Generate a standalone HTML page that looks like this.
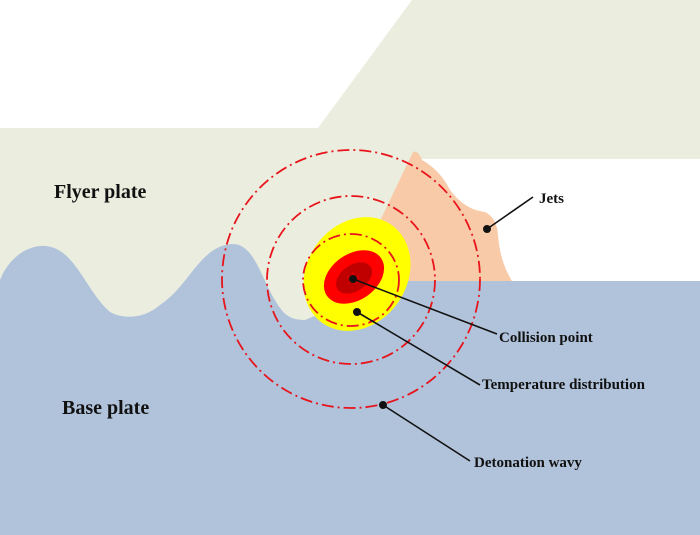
<!DOCTYPE html>
<html><head><meta charset="utf-8"><style>
html,body{margin:0;padding:0;background:#fff;}
svg{display:block;}
text{font-family:"Liberation Serif",serif;font-weight:bold;fill:#111;}
</style></head><body>
<svg width="700" height="535" viewBox="0 0 700 535" xmlns="http://www.w3.org/2000/svg">
<rect width="700" height="535" fill="#fff"/>
<!-- flyer plate -->
<polygon points="0,128 318,128 412,0 700,0 700,159 420,159 400,535 0,535" fill="#ebeedf"/>
<!-- jets -->
<path d="M378,225 L413,152 Q418,150 422,160 Q440,170 450,190 Q465,210 485,212 Q497,218 498,235 Q500,262 512,281 L395,281 Z" fill="#f8caa7"/>
<!-- base plate -->
<path d="M0,280 C10,255 30,245 45,246 C75,248 85,290 110,312 C125,320 145,318 160,305 C190,285 200,246 232,244 C255,243 262,282 278,305 C285,316 292,320 305,320 L400,281 L700,281 L700,535 L0,535 Z" fill="#b0c3da"/>
<!-- yellow ellipse -->
<ellipse cx="357" cy="274" rx="50" ry="60" transform="rotate(35 357 274)" fill="#ffff00"/>
<ellipse cx="354" cy="277" rx="23" ry="33" transform="rotate(55 354 277)" fill="#ff0000"/>
<ellipse cx="354" cy="278" rx="13" ry="20" transform="rotate(55 354 278)" fill="#c00000"/>
<polygon points="353,271 355,276 360,276 356,279 358,284 353,281 348,284 350,279 346,276 351,276" fill="#e00000"/>
<!-- circles -->
<g fill="none" stroke="#e8141b" stroke-width="1.8" stroke-dasharray="12,4,2,4">
<circle cx="351" cy="279" r="129"/>
<circle cx="351" cy="280" r="84"/>
<ellipse cx="351" cy="280" rx="48" ry="46"/>
</g>
<!-- leaders -->
<g stroke="#111" stroke-width="1.6">
<line x1="487" y1="229" x2="533" y2="197"/>
<line x1="353" y1="279" x2="497" y2="334"/>
<line x1="357" y1="312" x2="480" y2="385"/>
<line x1="383" y1="405" x2="470" y2="461"/>
</g>
<g fill="#111">
<circle cx="487" cy="229" r="4"/>
<circle cx="353" cy="279" r="4"/>
<circle cx="357" cy="312" r="4"/>
<circle cx="383" cy="405" r="4"/>
</g>
<text x="54" y="198" font-size="20">Flyer plate</text>
<text x="62" y="414" font-size="20">Base plate</text>
<text x="539" y="203" font-size="15">Jets</text>
<text x="499" y="342" font-size="15">Collision point</text>
<text x="482" y="389" font-size="15">Temperature distribution</text>
<text x="474" y="467" font-size="15">Detonation wavy</text>
</svg>
</body></html>
